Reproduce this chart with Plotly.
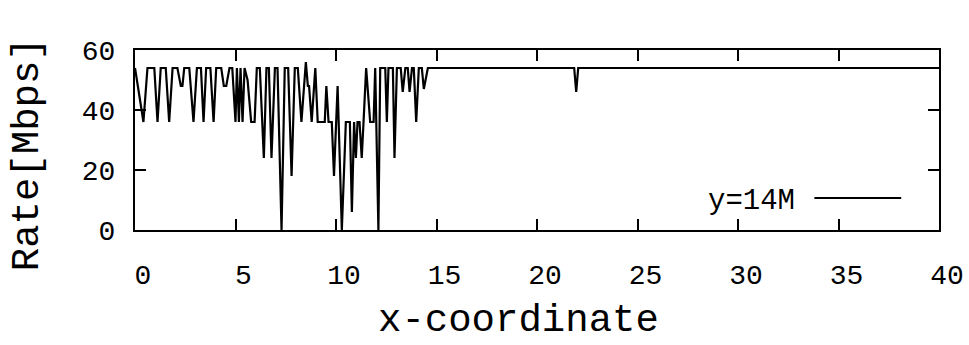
import plotly.graph_objects as go

x_coord = [0.00, 0.42, 0.62, 0.96, 1.12, 1.28, 1.53, 1.70, 1.87, 2.11, 2.28, 2.36, 2.45,
           2.70, 2.91, 3.08, 3.28, 3.41, 3.54, 3.75, 3.91, 4.04, 4.29, 4.42, 4.54, 4.70,
           4.84, 5.00, 5.07, 5.17, 5.25, 5.35, 5.45, 5.60, 5.78, 5.95, 6.06, 6.21, 6.41,
           6.54, 6.66, 6.79, 6.96, 7.09, 7.29, 7.45, 7.62, 7.79, 7.95, 8.10, 8.28, 8.50,
           8.60, 8.66, 8.79, 8.97, 9.09, 9.44, 9.52, 9.63, 9.79, 9.90, 10.08, 10.29,
           10.49, 10.69, 10.79, 10.90, 10.99, 11.07, 11.17, 11.28, 11.37, 11.50, 11.70,
           11.87, 11.95, 12.11, 12.20, 12.45, 12.53, 12.61, 12.83, 12.91, 13.03, 13.22,
           13.32, 13.45, 13.57, 13.66, 13.78, 13.87, 13.99, 14.12, 14.27, 14.37, 14.57,
           21.85, 21.95, 22.05, 40.00]
rate_mbps = [54, 36, 54, 54, 36, 54, 54, 36, 54, 54, 48, 48, 54,
             54, 36, 54, 54, 36, 54, 54, 36, 54, 54, 48, 48, 54,
             54, 36, 54, 36, 54, 36, 54, 50, 36, 36, 54, 54, 24,
             54, 54, 24, 54, 54, 0, 54, 54, 18, 54, 54, 36, 56,
             48, 48, 36, 54, 36, 36, 48, 36, 36, 18, 48, 0,
             36, 36, 6, 36, 24, 36, 36, 24, 36, 54, 36,
             36, 54, 0, 54, 54, 36, 54, 54, 24, 54, 54,
             46, 54, 54, 46, 54, 54, 36, 54, 54, 47, 54,
             54, 46, 54, 54]

x_ticks = [0, 5, 10, 15, 20, 25, 30, 35, 40]
y_ticks = [0, 20, 40, 60]
series_name = "y=14M"

FONT = "Liberation Mono"

fig = go.Figure()
fig.add_trace(go.Scatter(x=x_coord, y=rate_mbps, mode="lines", name=series_name,
                         line=dict(color="black", width=2.2), showlegend=False))

axis_common = dict(ticks="inside", ticklen=11, tickwidth=2, tickcolor="black",
                   showline=True, linewidth=2, linecolor="black", mirror="ticks",
                   showgrid=False, zeroline=False, automargin=False,
                   tickfont=dict(family=FONT, size=28, color="black"))

fig.update_xaxes(range=[0, 40], tickvals=x_ticks, ticklabelshift=8,
                 ticklabelstandoff=18, **axis_common)
fig.update_yaxes(range=[0, 60], tickvals=y_ticks, ticklabelstandoff=12, **axis_common)

fig.add_annotation(text="x-coordinate", xref="paper", yref="paper", x=0.477, y=-0.505,
                   xanchor="center", yanchor="middle", showarrow=False,
                   font=dict(family=FONT, size=39, color="black"))
fig.add_annotation(text="Rate[Mbps]", xref="paper", yref="paper", x=-0.132, y=0.42,
                   xanchor="center", yanchor="middle", showarrow=False, textangle=-90,
                   font=dict(family=FONT, size=39, color="black"))

# legend (gnuplot style: text then line sample)
fig.add_annotation(text=series_name, xref="paper", yref="paper", x=0.823, y=0.16,
                   xanchor="right", yanchor="middle", showarrow=False,
                   font=dict(family=FONT, size=29, color="black"))
fig.add_shape(type="line", xref="paper", yref="paper", x0=0.845, x1=0.953,
              y0=0.178, y1=0.178, line=dict(color="black", width=2))

fig.update_layout(width=969, height=345, paper_bgcolor="white", plot_bgcolor="white",
                  margin=dict(l=135, r=30, t=50, b=115))

fig.write_html("out.html", config={"displayModeBar": False},
               post_script="document.body.style.margin='0px';document.body.style.overflow='hidden';")
